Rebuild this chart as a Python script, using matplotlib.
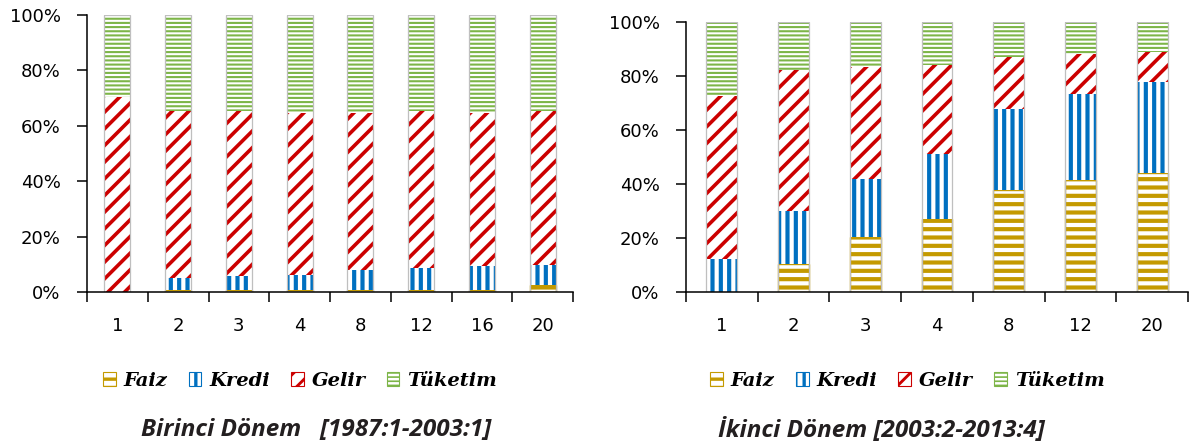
import matplotlib
matplotlib.use('Agg')
import matplotlib.pyplot as plt
from matplotlib import ticker

# --- data -----------------------------------------------------------------
series = ['Faiz', 'Kredi', 'Gelir', 'Tüketim']

periods_1 = ['1', '2', '3', '4', '8', '12', '16', '20']
faiz_1 = [0, 0.8, 0.8, 0.8, 0.8, 0.8, 0.8, 2.4]
kredi_1 = [0, 4.2, 4.8, 5.4, 7.2, 8.0, 8.6, 7.4]
gelir_1 = [70.4, 60.2, 59.6, 58.4, 56.6, 56.4, 55.2, 55.4]
tuketim_1 = [29.6, 34.8, 34.8, 35.4, 35.4, 34.8, 35.4, 34.8]
title_1 = 'Birinci Dönem   [1987:1-2003:1]'

periods_2 = ['1', '2', '3', '4', '8', '12', '20']
faiz_2 = [0, 10.4, 20.3, 26.9, 37.7, 41.6, 44.2]
kredi_2 = [12.2, 19.7, 21.5, 24.2, 30.2, 31.7, 33.7]
gelir_2 = [60.5, 52.2, 41.6, 33.1, 19.3, 15.0, 11.0]
tuketim_2 = [27.3, 17.7, 16.6, 15.8, 12.8, 11.7, 11.1]
title_2 = 'İkinci Dönem [2003:2-2013:4]'

# style per series: colour, hatch, hatch linewidth, edge linewidth
styles = {
    'Faiz': ('#C49A00', '--', 3.0, 1.0),
    'Kredi': ('#0070C0', '||', 3.0, 0),
    'Gelir': ('#CC0000', '//', 2.6, 0),
    'Tüketim': ('#7DB548', '----', 1.5, 0),
}


def with_hatch_lw(artist, lw):
    # hatch linewidth is global in matplotlib, so switch it while drawing
    orig = artist.draw

    def draw(renderer):
        with plt.rc_context({'hatch.linewidth': lw}):
            if hasattr(artist, 'set_hatch_linewidth'):
                artist.set_hatch_linewidth(lw)
            orig(renderer)
    artist.draw = draw


def draw_panel(ax, cats, values):
    x = list(range(len(cats)))
    bottom = [0.0] * len(cats)
    handles = []
    for name, vals in zip(series, values):
        color, hatch, hlw, elw = styles[name]
        plt.rcParams['hatch.linewidth'] = hlw
        bars = ax.bar(x, vals, width=0.43, bottom=bottom, facecolor='white',
                      edgecolor=color, hatch=hatch, linewidth=elw, label=name)
        for p, v in zip(bars, vals):
            with_hatch_lw(p, hlw)
            if v == 0:
                p.set_visible(False)
        handles.append(bars)
        bottom = [b + v for b, v in zip(bottom, vals)]
    # light grey outline around each stacked column
    ax.bar(x, bottom, width=0.43, fill=False, edgecolor='#BFBFBF', linewidth=0.9)

    ax.set_xlim(-0.5, len(cats) - 0.5)
    ax.set_ylim(0, 100)
    ax.set_yticks(range(0, 101, 20))
    ax.yaxis.set_major_formatter(ticker.FuncFormatter(lambda v, p: '%d%%' % v))
    ax.set_xticks(x)
    ax.set_xticklabels(cats)
    ax.set_xticks([i - 0.5 for i in range(len(cats) + 1)], minor=True)
    ax.tick_params(axis='x', which='major', length=0, pad=18, labelsize=13)
    ax.tick_params(axis='x', which='minor', length=7, width=1.1, direction='out')
    ax.tick_params(axis='y', length=7, width=1.1, pad=12, labelsize=13)
    for s in ['top', 'right']:
        ax.spines[s].set_visible(False)
    for s in ['left', 'bottom']:
        ax.spines[s].set_linewidth(1.1)
    return handles


fig = plt.figure(figsize=(11.97, 4.48), dpi=100)
ax1 = fig.add_axes([0.0727, 0.3482, 0.4060, 0.6183])
ax2 = fig.add_axes([0.5731, 0.3482, 0.4194, 0.6027])

h1 = draw_panel(ax1, periods_1, [faiz_1, kredi_1, gelir_1, tuketim_1])
h2 = draw_panel(ax2, periods_2, [faiz_2, kredi_2, gelir_2, tuketim_2])

leg_font = dict(family='DejaVu Serif', weight='bold', style='italic', size=14)
for handles, cx in [(h1, 0.2506), (h2, 0.758)]:
    leg = fig.legend(handles, series, loc='center', bbox_to_anchor=(cx, 0.1496),
                     ncol=4, frameon=False, prop=leg_font, handlelength=0.65,
                     handleheight=0.75, handletextpad=0.4, columnspacing=1.1)
    for patch, name in zip(leg.get_patches(), series):
        patch.set_visible(True)
        patch.set_linewidth(0.8)
        with_hatch_lw(patch, styles[name][2] * 0.8)

title_font = dict(family='Open Sans', weight='bold', style='italic', size=17.5,
                  color='#231F20')
fig.text(0.264, 0.040, title_1, ha='center', va='center', **title_font)
fig.text(0.736, 0.040, title_2, ha='center', va='center', **title_font)

fig.savefig('out.png', dpi=100)
